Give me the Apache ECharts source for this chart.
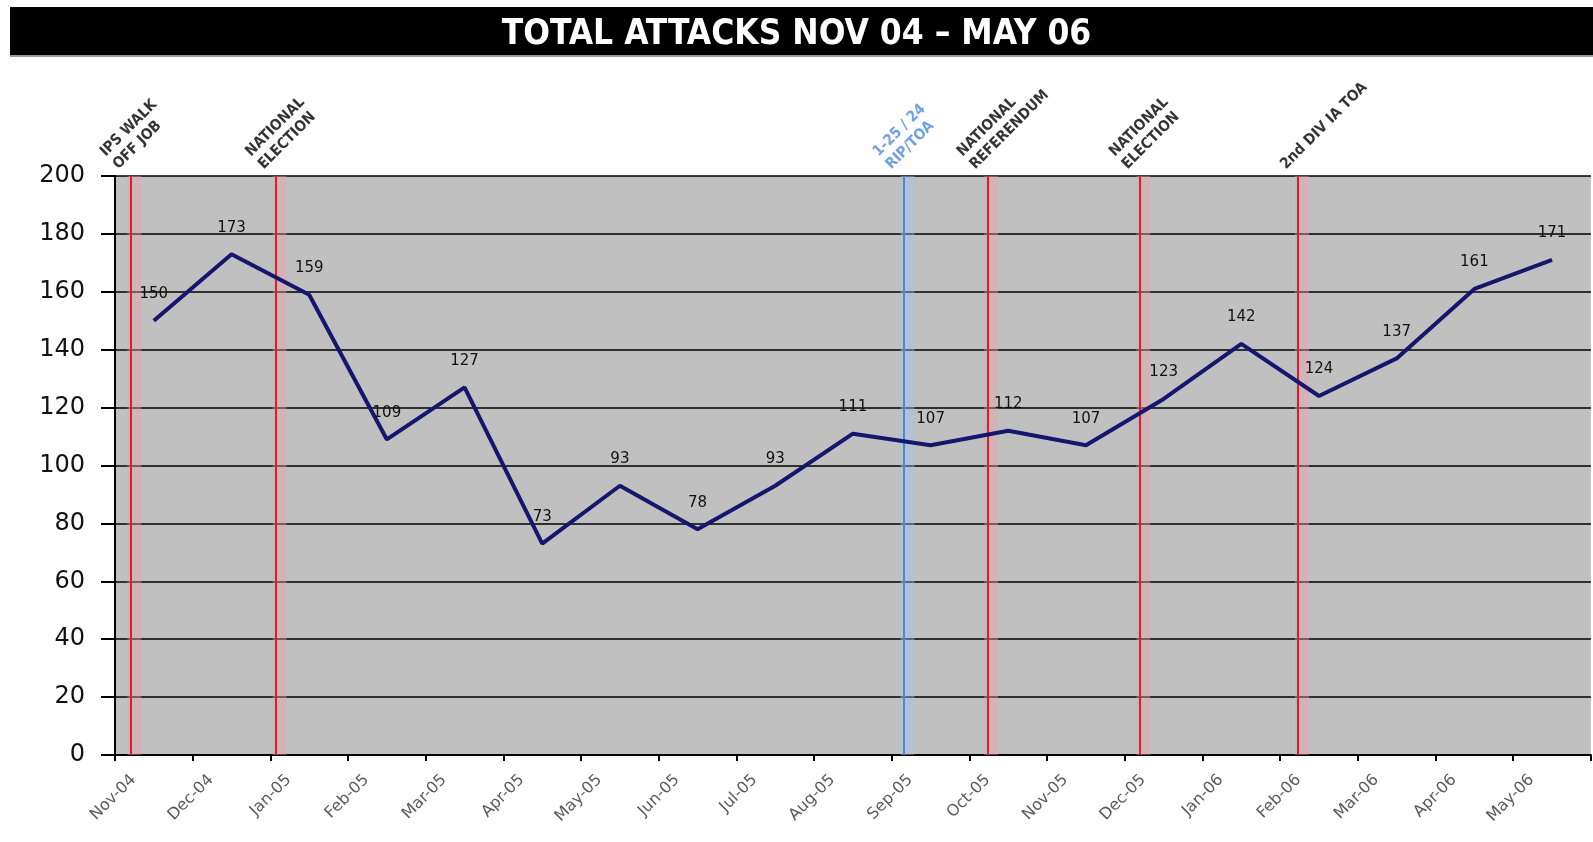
<!DOCTYPE html>
<html>
<head>
<meta charset="utf-8">
<script src="https://cdn.jsdelivr.net/npm/echarts@6/dist/echarts.min.js"></script>
<style>
html,body{margin:0;padding:0;background:#fff;}
#chart{width:1593px;height:842px;}
</style>
</head>
<body>
<div id="chart"></div>
<script>
// ---- data ----
const titleText = 'TOTAL ATTACKS NOV 04 \u2013 MAY 06';
const categories = ['Nov-04','Dec-04','Jan-05','Feb-05','Mar-05','Apr-05','May-05','Jun-05','Jul-05','Aug-05','Sep-05','Oct-05','Nov-05','Dec-05','Jan-06','Feb-06','Mar-06','Apr-06','May-06'];
const attacks = [150,173,159,109,127,73,93,78,93,111,107,112,107,123,142,124,137,161,171];
const yTicks = [0,20,40,60,80,100,120,140,160,180,200];
const eventPositions = [0.2, 2.07, 10.15, 11.23, 13.19, 15.23];
const eventLabels = ['IPS WALK\nOFF JOB','NATIONAL\nELECTION','1-25 / 24\nRIP/TOA','NATIONAL\nREFERENDUM','NATIONAL\nELECTION','2nd DIV IA TOA'];
const eventKinds = ['red','red','blue','red','red','red'];

// ---- styling ----
const KIND_COLOR = {red:'#c8282d', blue:'#4f88d8'};
const KIND_GLOW = {red:'rgba(240,160,170,0.4)', blue:'rgba(160,195,240,0.4)'};
const yMax = yTicks[yTicks.length-1];

const chart = echarts.init(document.getElementById('chart'), null, {renderer:'canvas'});
const option = {
  animation:false,
  backgroundColor:'#ffffff',
  graphic:[
    {type:'rect', left:10, top:7, shape:{width:1583, height:48}, style:{fill:'#000'}, z:0},
    {type:'rect', left:10, top:55, shape:{width:1583, height:2}, style:{fill:'#9a9a9a'}, z:0}
  ],
  title:{
    text:titleText, left:'center', top:12,
    textStyle:{color:'#fff', fontSize:35, fontWeight:'bold', fontFamily:'"DejaVu Sans Condensed", "DejaVu Sans", sans-serif'}
  },
  grid:{left:115, right:0, top:176, bottom:87, show:true, backgroundColor:'#c0c0c0', borderWidth:0},
  xAxis:{
    type:'value', min:0, max:categories.length, interval:1,
    axisLine:{show:true, onZero:false, lineStyle:{color:'#000', width:2}},
    axisTick:{show:true, length:6, lineStyle:{color:'#000', width:2}},
    splitLine:{show:false},
    axisLabel:{
      rotate:45, margin:4, color:'#5a5a5a', fontSize:16, fontFamily:'"DejaVu Sans", sans-serif',
      verticalAlign:'top', lineHeight:52,
      formatter:function(v){ return categories[Math.round(v)] || ''; }
    }
  },
  yAxis:{
    type:'value', min:0, max:yMax, interval:20,
    axisLine:{show:true, lineStyle:{color:'#000', width:2}},
    axisTick:{show:true, length:14, lineStyle:{color:'#000', width:2}},
    splitLine:{show:true, lineStyle:{color:'#000', width:1.5}},
    axisLabel:{color:'#111', fontSize:24, margin:30, fontFamily:'"DejaVu Sans", sans-serif'}
  },
  series:[
    {
      type:'line',
      data:attacks.map((v,i)=>[i+0.5, v]),
      symbol:'circle', symbolSize:0.1, showSymbol:true,
      itemStyle:{color:'#16166e'},
      lineStyle:{color:'#16166e', width:4},
      z:5,
      label:{show:true, position:'top', distance:19, color:'#111', fontSize:15, fontFamily:'"DejaVu Sans", sans-serif',
             formatter:function(p){ return String(p.value[1]); }},
      labelLayout:{hideOverlap:false},
      markLine:{
        silent:true, symbol:'none', label:{show:false},
        data:eventPositions.map((p,i)=>({xAxis:p, lineStyle:{color:KIND_COLOR[eventKinds[i]], width:2, type:'solid'}}))
      },
      markArea:{
        silent:true,
        data:eventPositions.map((p,i)=>[{xAxis:p-0.04, itemStyle:{color:KIND_GLOW[eventKinds[i]]}},{xAxis:p+0.14}])
      }
    },
    {
      type:'scatter',
      data:eventPositions.map((p,i)=>({value:[p, yMax], label:{color: eventKinds[i]==='blue' ? KIND_COLOR.blue : '#000'}})),
      symbolSize:0,
      clip:false,
      silent:true,
      z:6,
      label:{
        show:true, position:[0,0], rotate:45, align:'left', verticalAlign:'bottom',
        offset:[-4,-8], fontSize:15, fontWeight:'bold', lineHeight:18,
        fontFamily:'"DejaVu Sans Condensed", "DejaVu Sans", sans-serif',
        formatter:function(p){ return eventLabels[p.dataIndex]; }
      },
      itemStyle:{color:'transparent'}
    }
  ]
};
chart.setOption(option);
</script>
</body>
</html>
